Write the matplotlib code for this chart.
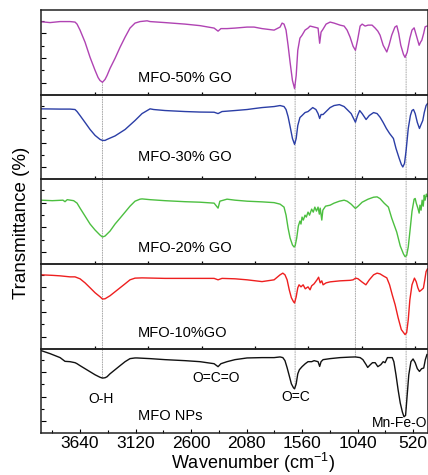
import matplotlib
matplotlib.use("Agg")
import matplotlib.pyplot as plt
import numpy as np
from matplotlib.patches import ConnectionPatch

plt.rcParams['font.family'] = ['Liberation Sans', 'DejaVu Sans']
plt.rcParams['mathtext.fontset'] = 'custom'
plt.rcParams['mathtext.rm'] = 'Liberation Sans'
plt.rcParams['mathtext.it'] = 'Liberation Sans'

# FTIR spectra, transmittance normalised to each panel (0 = bottom, 1 = top)
wn_50 = [4005, 3921, 3827, 3734, 3687, 3668, 3640, 3593, 3546, 3499, 3471, 3453, 3430, 3406, 3387,
         3359, 3312, 3265, 3218, 3172, 3125, 3078, 3012, 2984, 2844, 2656, 2516, 2384, 2347, 2320,
         2263, 2188, 2075, 2010, 1935, 1822, 1766, 1747, 1729, 1710, 1691, 1672, 1650, 1630, 1615,
         1600, 1580, 1560, 1532, 1504, 1485, 1447, 1410, 1395, 1382, 1363, 1335, 1297, 1260, 1204,
         1166, 1138, 1110, 1082, 1060, 1040, 1016, 997, 969, 941, 904, 875, 850, 829, 800, 766,
         745, 720, 690, 672, 655, 635, 610, 595, 575, 550, 530, 510, 490, 463, 450, 438, 420, 407, 390]
tr_50 = [0.861, 0.851, 0.863, 0.863, 0.857, 0.833, 0.762, 0.619, 0.440, 0.286, 0.202, 0.167, 0.146, 0.179, 0.226,
         0.310, 0.429, 0.560, 0.679, 0.786, 0.845, 0.863, 0.872, 0.863, 0.851, 0.833, 0.815, 0.786, 0.750, 0.780,
         0.780, 0.786, 0.798, 0.798, 0.780, 0.762, 0.798, 0.845, 0.833, 0.762, 0.583, 0.381, 0.167, 0.071, 0.226,
         0.524, 0.667, 0.702, 0.762, 0.786, 0.810, 0.798, 0.786, 0.607, 0.738, 0.774, 0.833, 0.857, 0.845, 0.821,
         0.810, 0.762, 0.679, 0.571, 0.524, 0.643, 0.810, 0.833, 0.810, 0.821, 0.821, 0.786, 0.750, 0.702, 0.583, 0.504,
         0.583, 0.702, 0.798, 0.813, 0.726, 0.583, 0.476, 0.440, 0.500, 0.667, 0.762, 0.789, 0.702, 0.583, 0.619, 0.643, 0.726, 0.801, 0.810]

wn_30 = [4005, 3827, 3734, 3687, 3668, 3640, 3593, 3546, 3499, 3453, 3430, 3406, 3387, 3312, 3218,
         3125, 3059, 2984, 2950, 2844, 2656, 2516, 2384, 2347, 2310, 2188, 2075, 2010, 1935, 1822,
         1766, 1729, 1710, 1691, 1672, 1650, 1630, 1615, 1600, 1580, 1560, 1532, 1504, 1460, 1430,
         1410, 1395, 1382, 1363, 1335, 1297, 1260, 1210, 1166, 1138, 1100, 1060, 1040, 1020, 997,
         960, 930, 890, 857, 829, 800, 770, 740, 704, 680, 650, 630, 616, 600, 585, 565, 545, 530,
         516, 500, 480, 460, 445, 429, 415, 398, 385]
tr_30 = [0.832, 0.829, 0.829, 0.824, 0.800, 0.753, 0.671, 0.588, 0.518, 0.471, 0.459, 0.459, 0.471, 0.512, 0.588,
         0.694, 0.776, 0.832, 0.824, 0.812, 0.800, 0.794, 0.792, 0.776, 0.800, 0.812, 0.824, 0.835, 0.847, 0.859,
         0.871, 0.859, 0.824, 0.741, 0.624, 0.482, 0.412, 0.482, 0.635, 0.729, 0.753, 0.788, 0.800, 0.847, 0.824,
         0.776, 0.718, 0.765, 0.765, 0.800, 0.847, 0.871, 0.882, 0.859, 0.824, 0.776, 0.674, 0.753, 0.812, 0.776,
         0.706, 0.753, 0.788, 0.776, 0.733, 0.671, 0.600, 0.541, 0.482, 0.365, 0.247, 0.176, 0.145, 0.188, 0.341, 0.600, 0.753, 0.812,
         0.824, 0.776, 0.671, 0.600, 0.647, 0.694, 0.788, 0.871, 0.894]

wn_20 = [4005, 3900, 3800, 3781, 3760, 3700, 3668, 3640, 3593, 3546, 3499, 3453, 3430, 3406, 3359,
         3312, 3265, 3218, 3172, 3125, 3078, 3059, 2984, 2844, 2656, 2516, 2384, 2347, 2330, 2263,
         2188, 2075, 1935, 1822, 1766, 1729, 1710, 1691, 1672, 1650, 1635, 1625, 1610, 1595, 1580,
         1570, 1560, 1548, 1532, 1520, 1504, 1490, 1470, 1455, 1440, 1425, 1410, 1398, 1390, 1375,
         1365, 1340, 1297, 1260, 1210, 1166, 1138, 1100, 1060, 1035, 997, 941, 890, 857, 829, 791,
         751, 720, 673, 640, 610, 595, 580, 565, 548, 530, 510, 500, 490, 475, 463, 455, 445, 435,
         425, 415, 407, 395, 388]
tr_20 = [0.753, 0.747, 0.753, 0.735, 0.759, 0.747, 0.718, 0.659, 0.565, 0.471, 0.400, 0.341, 0.318, 0.329, 0.388,
         0.471, 0.541, 0.612, 0.682, 0.741, 0.765, 0.768, 0.759, 0.747, 0.735, 0.729, 0.718, 0.659, 0.741, 0.765,
         0.753, 0.741, 0.733, 0.724, 0.706, 0.671, 0.576, 0.424, 0.306, 0.224, 0.200, 0.212, 0.306, 0.447, 0.506,
         0.471, 0.553, 0.518, 0.576, 0.553, 0.612, 0.576, 0.647, 0.612, 0.671, 0.624, 0.671, 0.588, 0.659, 0.518,
         0.635, 0.682, 0.694, 0.718, 0.741, 0.753, 0.741, 0.706, 0.655, 0.682, 0.729, 0.765, 0.788, 0.792, 0.771, 0.718,
         0.671, 0.541, 0.376, 0.212, 0.118, 0.086, 0.100, 0.200, 0.400, 0.620, 0.765, 0.773, 0.718, 0.659, 0.600, 0.694, 0.635, 0.753,
         0.682, 0.812, 0.753, 0.824, 0.800]

wn_10 = [4005, 3900, 3827, 3734, 3687, 3640, 3593, 3546, 3499, 3453, 3430, 3406, 3359, 3312, 3265,
         3218, 3172, 3125, 3059, 2844, 2656, 2384, 2347, 2310, 2188, 2075, 1935, 1822, 1766, 1740,
         1720, 1700, 1680, 1660, 1640, 1630, 1615, 1600, 1588, 1570, 1550, 1530, 1504, 1485, 1470,
         1447, 1420, 1405, 1390, 1375, 1363, 1335, 1297, 1204, 1110, 1082, 1058, 1035, 1000, 962,
         930, 890, 857, 829, 800, 766, 740, 715, 688, 660, 630, 595, 580, 565, 550, 530, 507, 490,
         475, 460, 440, 423, 410, 398, 385]
tr_10 = [0.871, 0.865, 0.859, 0.847, 0.847, 0.824, 0.776, 0.718, 0.659, 0.612, 0.585, 0.588, 0.624, 0.671, 0.718,
         0.765, 0.812, 0.832, 0.835, 0.829, 0.829, 0.829, 0.812, 0.829, 0.824, 0.812, 0.791, 0.812, 0.871, 0.891,
         0.871, 0.812, 0.694, 0.600, 0.553, 0.538, 0.612, 0.718, 0.753, 0.729, 0.753, 0.706, 0.729, 0.694, 0.741,
         0.765, 0.812, 0.843, 0.776, 0.800, 0.753, 0.776, 0.788, 0.800, 0.806, 0.812, 0.832, 0.824, 0.788, 0.753,
         0.812, 0.871, 0.891, 0.882, 0.859, 0.835, 0.753, 0.635, 0.518, 0.365, 0.224, 0.165, 0.188, 0.341, 0.576, 0.753, 0.832, 0.788,
         0.718, 0.674, 0.694, 0.714, 0.812, 0.909, 0.941]

wn_np = [4005, 3921, 3827, 3781, 3734, 3687, 3668, 3640, 3593, 3546, 3499, 3453, 3430, 3406, 3387,
         3359, 3312, 3265, 3218, 3172, 3125, 3106, 2984, 2844, 2656, 2516, 2384, 2347, 2320, 2263,
         2188, 2075, 1935, 1822, 1766, 1740, 1720, 1700, 1680, 1660, 1640, 1630, 1615, 1600, 1585,
         1560, 1530, 1504, 1470, 1447, 1410, 1395, 1382, 1363, 1297, 1204, 1110, 1060, 1016, 990,
         960, 945, 920, 900, 875, 850, 822, 800, 782, 760, 715, 700, 680, 660, 640, 620, 605, 590,
         575, 560, 540, 520, 500, 480, 460, 440, 420, 405, 390]
tr_np = [0.976, 0.940, 0.893, 0.849, 0.845, 0.833, 0.821, 0.798, 0.762, 0.726, 0.690, 0.661, 0.651, 0.655, 0.667,
         0.702, 0.750, 0.798, 0.845, 0.881, 0.889, 0.889, 0.881, 0.869, 0.857, 0.845, 0.821, 0.786, 0.821, 0.845,
         0.869, 0.889, 0.893, 0.893, 0.901, 0.893, 0.857, 0.774, 0.679, 0.583, 0.536, 0.524, 0.583, 0.702, 0.750,
         0.786, 0.821, 0.845, 0.845, 0.857, 0.845, 0.789, 0.845, 0.869, 0.881, 0.893, 0.899, 0.901, 0.893, 0.869,
         0.810, 0.777, 0.810, 0.833, 0.833, 0.786, 0.810, 0.845, 0.833, 0.893, 0.893, 0.845, 0.690, 0.512, 0.357, 0.250, 0.194, 0.210,
         0.452, 0.690, 0.845, 0.877, 0.833, 0.762, 0.730, 0.762, 0.770, 0.869, 0.929]

samples = ['MFO-50% GO', 'MFO-30% GO', 'MFO-20% GO', 'MFO-10%GO', 'MFO NPs']
label_y = [0.202, 0.259, 0.188, 0.188, 0.202]
colors = ['#b043b3', '#2b3ea6', '#4cbf40', '#ee1f1f', '#111111']
spectra = [(wn_50, tr_50), (wn_30, tr_30), (wn_20, tr_20), (wn_10, tr_10), (wn_np, tr_np)]

# band assignments (drawn in the bottom panel)
bands = ['O-H', 'O=C=O', 'O=C', 'Mn-Fe-O']
band_x = [3445, 2366, 1619, 650]
band_y = [0.405, 0.658, 0.432, 0.123]
guide_lines = [3430, 1625, 1060, 585]

major_ticks = [3640, 3120, 2600, 2080, 1560, 1040, 520]
minor_ticks = [3900, 3380, 2860, 2340, 1820, 1300, 780]
inner_ticks = [3500, 3000, 2500, 2000, 1500, 1000, 500]
ytick_major = [0.14, 0.432, 0.724]
ytick_minor = [0.286, 0.578, 0.87]

fig, axes = plt.subplots(5, 1, figsize=(4.28, 4.75), dpi=100, sharex=False)
fig.subplots_adjust(left=0.096, right=1.0, top=0.979, bottom=0.088, hspace=0)

for i, ax in enumerate(axes):
    wn, tr = spectra[i]
    ax.plot(wn, tr, color=colors[i], lw=1.0)
    ax.set_xlim(4005, 380)
    ax.set_ylim(0, 1)
    ax.set_facecolor('none')
    ax.text(3097, label_y[i], samples[i], fontsize=10.5, ha='left', va='center')
    for s in ax.spines.values():
        s.set_linewidth(1.1)
        s.set_color('#222222')
    ax.set_yticks(ytick_major)
    ax.set_yticks(ytick_minor, minor=True)
    ax.set_yticklabels([])
    ax.tick_params(axis='y', which='major', direction='in', length=3.5, width=0.8)
    ax.tick_params(axis='y', which='minor', direction='in', length=2, width=0.8)
    if i < 4:
        ax.set_xticks(inner_ticks)
        ax.set_xticklabels([])
        ax.tick_params(axis='x', which='major', direction='in', length=2.5, width=0.9)
    else:
        ax.set_xticks(major_ticks)
        ax.set_xticks(minor_ticks, minor=True)
        ax.tick_params(axis='x', which='major', direction='in', length=3, width=0.8,
                       labelsize=12.5, pad=2)
        ax.tick_params(axis='x', which='minor', direction='in', length=2, width=0.8)

for j, b in enumerate(bands):
    axes[4].text(band_x[j], band_y[j], b, fontsize=10, ha='center', va='center')

# dotted guide lines from the top spectrum down to the bottom one
top_wn, top_tr = np.array(wn_50)[::-1], np.array(tr_50)[::-1]
bot_wn, bot_tr = np.array(wn_np)[::-1], np.array(tr_np)[::-1]
for g in guide_lines:
    y0 = np.interp(g, top_wn, top_tr)
    y1 = np.interp(g, bot_wn, bot_tr)
    con = ConnectionPatch(xyA=(g, y0), coordsA=axes[0].transData,
                          xyB=(g, y1), coordsB=axes[4].transData,
                          color='#a8a8a8', lw=0.7, linestyle=(0, (1, 1.5)), zorder=-1)
    fig.add_artist(con)

fig.text(0.051, 0.53, 'Transmittance (%)', rotation=90, fontsize=13.5, ha='center', va='center')
fig.text(0.592, 0.025, 'Wavenumber (cm$^{-1}$)', fontsize=13, ha='center', va='center')

fig.savefig('out.png', dpi=100)
